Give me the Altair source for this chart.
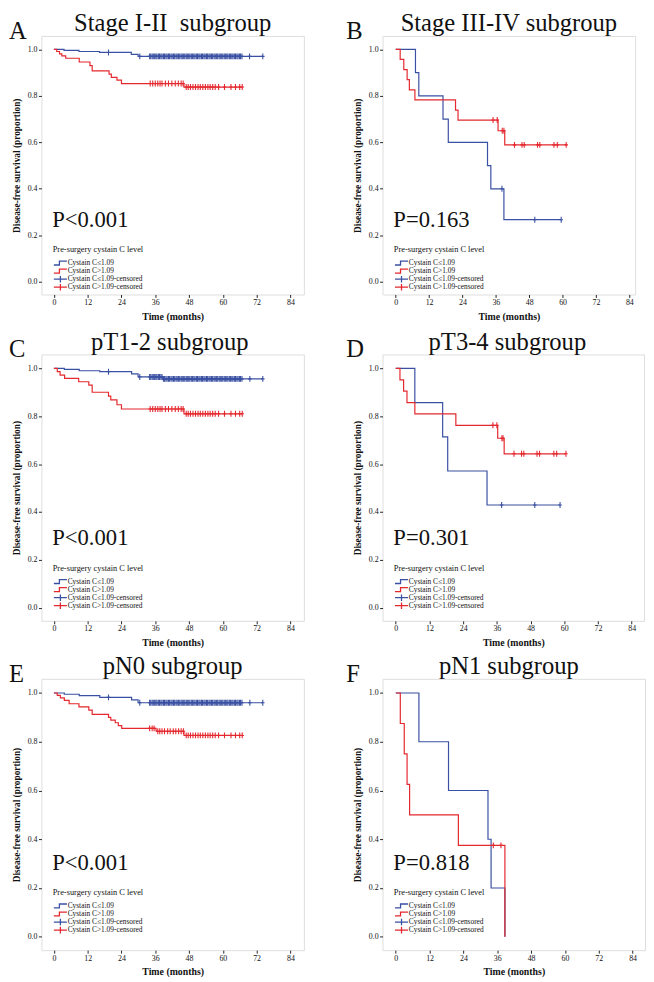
import altair as alt
import pandas as pd

SERIF = "Liberation Serif"
BLUE = "#3a50a2"
RED = "#e4282e"
LABELS = ["Cystain C≤1.09", "Cystain C>1.09", "Cystain C≤1.09-censored", "Cystain C>1.09-censored"]
LEGEND_COLORS = [BLUE, RED, BLUE, RED]
LEGEND_TITLE = "Pre-surgery cystain C level"
X_TICKS = [0, 12, 24, 36, 48, 60, 72, 84]
Y_TICKS = [0.0, 0.2, 0.4, 0.6, 0.8, 1.0]

# ---------------- data ----------------
blue_dense_cens = [34.0, 34.4, 34.9, 35.3, 35.8, 36.2, 36.6, 37.1, 37.5, 38.0, 38.4, 38.9, 39.3,
                   39.8, 40.2, 40.7, 41.1, 41.6, 42.0, 42.5, 42.9, 43.4, 43.8, 44.3, 44.7, 45.2,
                   45.6, 46.1, 46.5, 47.0, 47.4, 47.9, 48.3, 48.8, 49.2, 49.7, 50.1, 50.6, 51.0,
                   51.5, 51.9, 52.4, 52.8, 53.3, 53.7, 54.2, 54.6, 55.1, 55.5, 56.0, 56.4, 56.9,
                   57.3, 57.8, 58.2, 58.7, 59.1, 59.6, 60.0, 60.5, 60.9, 61.4, 61.8, 62.3, 62.7,
                   63.2, 63.6, 64.1, 64.5, 65.0, 65.4, 65.9, 66.3, 66.8]

# Panel A: Stage I-II
a_blue_t = [0, 3.6, 8.9, 16.2, 27.5, 29.9]
a_blue_s = [1.0, 0.996, 0.991, 0.987, 0.979, 0.970]
a_blue_end = 74.2
a_blue_cens = [19.4, 30.5] + blue_dense_cens + [69.5, 74.2]
a_red_t = [0, 1.0, 2.0, 2.8, 4.2, 9.0, 12.8, 13.6, 19.6, 20.4, 22.4, 24.0, 46.2]
a_red_s = [1.0, 0.991, 0.981, 0.972, 0.962, 0.946, 0.930, 0.908, 0.894, 0.880, 0.868, 0.853, 0.838]
a_red_end = 66.9
a_red_cens = [34.2, 35.1, 36.0, 36.9, 37.7, 38.4, 39.6, 40.7, 41.9, 43.1, 44.2, 45.2, 45.9,
              47.0, 47.7, 48.5, 49.4, 50.3, 51.2, 52.0, 52.9, 53.8, 54.7, 55.5, 56.4, 57.3,
              58.5, 60.6, 62.9, 64.5, 66.0, 66.9]

# Panel B: Stage III-IV
b_blue_t = [0, 7.1, 8.3, 17.0, 18.9, 33.0, 34.2, 38.9]
b_blue_s = [1.0, 0.9, 0.8, 0.7, 0.6, 0.5, 0.4, 0.267]
b_blue_end = 59.5
b_blue_cens = [38.2, 50.0, 59.5]
b_red_t = [0, 1.6, 2.9, 4.1, 4.9, 6.9, 21.5, 22.4, 36.8, 39.2]
b_red_s = [1.0, 0.957, 0.913, 0.870, 0.826, 0.783, 0.739, 0.696, 0.650, 0.589]
b_red_end = 61.3
b_red_cens = [35.0, 36.5, 38.3, 38.9, 42.7, 45.4, 46.2, 51.0, 51.8, 56.9, 58.1, 61.3]

# Panel C: pT1-2
c_blue_t = [0, 3.7, 9.0, 16.3, 27.6, 29.9, 38.7]
c_blue_s = [1.0, 0.996, 0.990, 0.986, 0.977, 0.964, 0.956]
c_blue_end = 74.2
c_blue_cens = [19.4, 30.5] + blue_dense_cens + [69.6, 74.2]
c_red_t = [0, 1.2, 2.2, 3.8, 8.8, 12.4, 13.6, 19.4, 20.2, 22.4, 24.0, 46.2]
c_red_s = [1.0, 0.986, 0.972, 0.958, 0.944, 0.930, 0.900, 0.884, 0.868, 0.848, 0.830, 0.810]
c_red_end = 66.9
c_red_cens = [34.2, 35.1, 36.0, 36.9, 37.7, 38.4, 39.6, 40.7, 41.9, 43.1, 44.2, 45.2, 45.9,
              47.0, 47.7, 48.5, 49.4, 50.3, 51.2, 52.0, 52.9, 53.8, 54.7, 55.5, 56.4, 57.3,
              58.5, 60.6, 62.9, 64.5, 66.0, 66.9]

# Panel D: pT3-4
d_blue_t = [0, 6.8, 16.7, 18.5, 32.5]
d_blue_s = [1.0, 0.857, 0.714, 0.571, 0.429]
d_blue_end = 58.5
d_blue_cens = [37.7, 49.5, 58.5]
d_red_t = [0, 1.5, 2.8, 4.0, 6.8, 21.4, 36.3, 38.6]
d_red_s = [1.0, 0.952, 0.905, 0.857, 0.810, 0.762, 0.708, 0.643]
d_red_end = 60.6
d_red_cens = [34.6, 36.0, 37.8, 38.2, 42.1, 44.8, 45.6, 50.3, 51.2, 56.3, 57.3, 60.6]

# Panel E: pN0
e_blue_t = [0, 3.7, 9.0, 16.3, 27.6, 29.9]
e_blue_s = [1.0, 0.995, 0.989, 0.982, 0.972, 0.960]
e_blue_end = 74.2
e_blue_cens = [19.4, 30.5] + blue_dense_cens + [69.6, 74.2]
e_red_t = [0, 1.2, 2.3, 3.7, 5.4, 8.9, 12.4, 13.6, 19.4, 20.2, 21.8, 22.9, 24.1, 36.3, 46.2]
e_red_s = [1.0, 0.990, 0.980, 0.970, 0.956, 0.943, 0.930, 0.912, 0.900, 0.889, 0.878, 0.866,
           0.855, 0.843, 0.826]
e_red_end = 66.9
e_red_cens = [34.0, 34.9, 35.6, 36.9, 37.6, 38.4, 39.3, 40.4, 41.3, 42.4, 43.3, 44.3, 45.2,
              46.0, 47.0, 47.7, 48.5, 49.4, 50.3, 51.2, 52.0, 52.9, 53.8, 54.7, 55.5, 56.4,
              57.3, 58.5, 60.6, 62.9, 64.5, 66.0, 66.9]

# Panel F: pN1
f_blue_t = [0, 8.2, 18.7, 32.7, 33.8, 38.7]
f_blue_s = [1.0, 0.8, 0.6, 0.4, 0.2, 0.0]
f_blue_end = 38.7
f_blue_cens = []
f_red_t = [0, 1.6, 3.0, 4.0, 4.9, 22.2, 38.7]
f_red_s = [1.0, 0.875, 0.75, 0.625, 0.5, 0.375, 0.0]
f_red_end = 38.7
f_red_cens = [34.6, 37.3]

# ---------------- helpers ----------------
LEG_STEP = "M-1,0.3H-0.15V-0.3H1"
LEG_CROSS = "M-1,0H1M0,-0.5V0.5"
LEGEND_SHAPES = [LEG_STEP, LEG_STEP, LEG_CROSS, LEG_CROSS]
TICK = "M0,-1V1M-0.6,0H0.6"


def km_frames(bt, bs, bend, bc, rt, rs, rend, rc):
    lines = []
    for lab, ts, ss, end in [(LABELS[0], bt, bs, bend), (LABELS[1], rt, rs, rend)]:
        for t, s in zip(ts, ss):
            lines.append({"label": lab, "t": t, "s": s})
        if end > ts[-1]:
            lines.append({"label": lab, "t": end, "s": ss[-1]})
    cens = []
    for lab, ts, ss, cs in [(LABELS[2], bt, bs, bc), (LABELS[3], rt, rs, rc)]:
        for c in cs:
            lvl = [s for t, s in zip(ts, ss) if t <= c][-1]
            cens.append({"label": lab, "t": c, "s": lvl})
    return pd.DataFrame(lines), pd.DataFrame(cens)


def text_layer(txt, x, y, size, weight="normal", baseline="alphabetic"):
    return alt.Chart(pd.DataFrame({"v": [txt]})).mark_text(
        align="left", baseline=baseline, font=SERIF, fontSize=size, fontWeight=weight,
        color="#111").encode(text="v:N", x=alt.value(x), y=alt.value(y))


def panel(letter, title, pval, frames, width, height, xdom, ydom, letter_dx, title_dx=0):
    lines, cens = frames
    xs = alt.Scale(domain=xdom, nice=False, zero=False)
    ys = alt.Scale(domain=ydom, nice=False, zero=False)
    xax = alt.Axis(values=X_TICKS, title="Time (months)", grid=False, domain=False,
                   tickSize=3, tickColor="#222", labelFont=SERIF, labelFontSize=8,
                   labelColor="#111", labelPadding=1, titleFont=SERIF, titleFontSize=10,
                   titleFontWeight="bold", titleColor="#111", titlePadding=5,
                   labelFlush=False, labelOverlap=False, labelBound=False)
    yax = alt.Axis(values=Y_TICKS, format=".1f", title="Disease-free survival (proportion)",
                   grid=False, domain=False, tickSize=3, tickColor="#222", labelFont=SERIF,
                   labelFontSize=8, labelColor="#111", labelPadding=1.5, titleFont=SERIF,
                   titleFontSize=9.5, titleFontWeight="bold", titleColor="#111", titlePadding=6,
                   labelOverlap=False)
    cscale = alt.Scale(domain=LABELS, range=[BLUE, RED, BLUE, RED])

    line = alt.Chart(lines).mark_line(interpolate="step-after", strokeWidth=1.2).encode(
        x=alt.X("t:Q", scale=xs, axis=xax),
        y=alt.Y("s:Q", scale=ys, axis=yax),
        stroke=alt.Stroke("label:N", scale=cscale, legend=None),
    )
    pts = alt.Chart(cens).mark_point(shape=TICK, size=36, filled=False, strokeWidth=1.1,
                                     opacity=1).encode(
        x=alt.X("t:Q", scale=xs, axis=xax),
        y=alt.Y("s:Q", scale=ys, axis=yax),
        stroke=alt.Stroke("label:N", scale=cscale, legend=None),
    )
    layers = [line, pts]

    # in-plot legend (SPSS style)
    layers.append(text_layer(LEGEND_TITLE, 11.5, 220, 8.5))
    for i, (lab, col, shp) in enumerate(zip(LABELS, LEGEND_COLORS, LEGEND_SHAPES)):
        yy = 231 + 8.2 * i
        layers.append(alt.Chart(pd.DataFrame({"v": [lab]})).mark_point(
            shape=shp, size=177, filled=False, stroke=col, strokeWidth=1.3, opacity=1).encode(
            x=alt.value(19.3), y=alt.value(yy)))
        layers.append(text_layer(lab, 26.7, yy, 7.5, baseline="middle"))

    layers.append(text_layer(letter, letter_dx, 3, 25))
    layers.append(text_layer(pval, 11, 194, 23))

    return alt.layer(*layers).properties(
        width=width, height=height,
        title=alt.Title(title, font=SERIF, fontSize=25, fontWeight="normal", color="#111",
                        anchor="middle", offset=-17, dx=title_dx),
    )


XL = [-4.43, 88.8]
XB = [-4.74, 86.1]
XR = [-4.7, 88.4]
YD = [-0.055, 1.058]
H1, H2, H3 = 263, 271, 276

A = panel("A", "Stage I-II\u00a0 subgroup", "P<0.001",
          km_frames(a_blue_t, a_blue_s, a_blue_end, a_blue_cens, a_red_t, a_red_s, a_red_end, a_red_cens),
          267, H1, XL, YD, -33)
B = panel("B", "Stage III-IV subgroup", "P=0.163",
          km_frames(b_blue_t, b_blue_s, b_blue_end, b_blue_cens, b_red_t, b_red_s, b_red_end, b_red_cens),
          257, H1, XB, YD, -37)
C = panel("C", "pT1-2 subgroup", "P<0.001",
          km_frames(c_blue_t, c_blue_s, c_blue_end, c_blue_cens, c_red_t, c_red_s, c_red_end, c_red_cens),
          267, H2, XL, YD, -33, -3)
D = panel("D", "pT3-4 subgroup", "P=0.301",
          km_frames(d_blue_t, d_blue_s, d_blue_end, d_blue_cens, d_red_t, d_red_s, d_red_end, d_red_cens),
          266, H2, XR, YD, -37, -6)
E = panel("E", "pN0 subgroup", "P<0.001",
          km_frames(e_blue_t, e_blue_s, e_blue_end, e_blue_cens, e_red_t, e_red_s, e_red_end, e_red_cens),
          267, H3, XL, YD, -33)
F = panel("F", "pN1 subgroup", "P=0.818",
          km_frames(f_blue_t, f_blue_s, f_blue_end, f_blue_cens, f_red_t, f_red_s, f_red_end, f_red_cens),
          267, H3, XR, YD, -37, -5)


def row(l, r):
    return alt.hconcat(l, r, spacing=41).resolve_scale(stroke="independent")


lower = alt.vconcat(row(C, D), row(E, F), spacing=5).resolve_scale(stroke="independent")
chart = alt.vconcat(row(A, B), lower, spacing=7).resolve_scale(
    stroke="independent").properties(
    padding={"left": 0, "top": -6, "right": 0, "bottom": 0}
).configure_view(stroke="#555", strokeWidth=1).configure_axis(labelOverlap=False).configure(font=SERIF)

chart.save("out.html", embed_options={"renderer": "svg", "actions": False})
